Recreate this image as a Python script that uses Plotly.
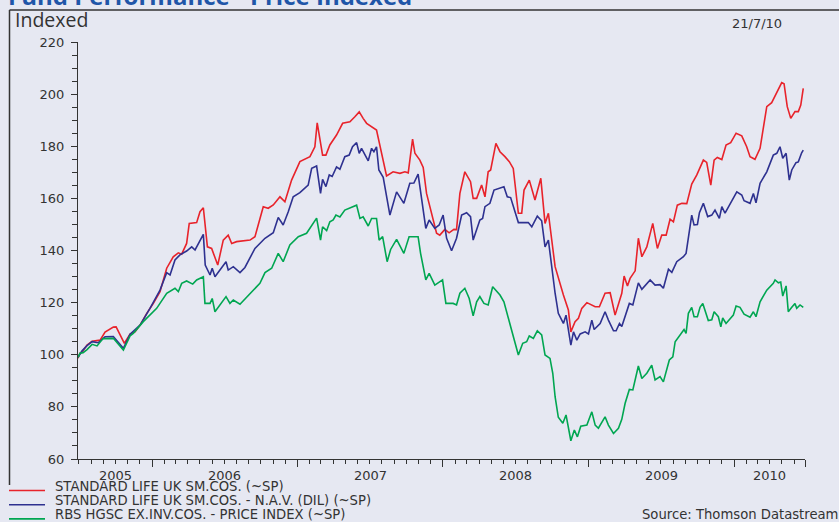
import pandas as pd
import plotly.graph_objects as go

# Weekly index levels (base 100), x given as decimal years
sl_price_years = [
    2005.491, 2005.505, 2005.519, 2005.553, 2005.588, 2005.643, 2005.677, 2005.734, 2005.753, 2005.810,
    2005.849, 2005.883, 2005.918, 2005.964, 2006.009, 2006.055, 2006.101, 2006.146, 2006.181, 2006.204,
    2006.238, 2006.256, 2006.307, 2006.330, 2006.353, 2006.381, 2006.410, 2006.452, 2006.490, 2006.524,
    2006.548, 2006.582, 2006.674, 2006.708, 2006.765, 2006.799, 2006.834, 2006.880, 2006.914, 2006.960,
    2007.017, 2007.086, 2007.120, 2007.136, 2007.173, 2007.196, 2007.223, 2007.269, 2007.311, 2007.361,
    2007.395, 2007.425, 2007.452, 2007.476, 2007.544, 2007.579, 2007.613, 2007.658, 2007.705, 2007.739,
    2007.762, 2007.792, 2007.808, 2007.842, 2007.865, 2007.888, 2007.922, 2007.957, 2007.979, 2008.014,
    2008.043, 2008.076, 2008.094, 2008.117, 2008.151, 2008.190, 2008.208, 2008.232, 2008.266, 2008.289,
    2008.311, 2008.328, 2008.364, 2008.392, 2008.426, 2008.456, 2008.483, 2008.518, 2008.541, 2008.557,
    2008.593, 2008.632, 2008.672, 2008.701, 2008.724, 2008.770, 2008.827, 2008.861, 2008.878, 2008.907,
    2008.930, 2008.953, 2008.988, 2009.010, 2009.045, 2009.074, 2009.113, 2009.148, 2009.182, 2009.228,
    2009.244, 2009.267, 2009.285, 2009.320, 2009.342, 2009.366, 2009.400, 2009.441, 2009.473, 2009.503,
    2009.533, 2009.560, 2009.583, 2009.610, 2009.641, 2009.675, 2009.709, 2009.744, 2009.789, 2009.812,
    2009.840, 2009.863, 2009.885, 2009.916, 2009.945, 2009.977, 2010.014, 2010.053, 2010.087, 2010.110,
    2010.144, 2010.179, 2010.201, 2010.225, 2010.259, 2010.294, 2010.328, 2010.344, 2010.366, 2010.390,
    2010.419, 2010.442, 2010.459, 2010.476,
]
sl_price_values = [
    98.7, 100.6, 101.0, 103.7, 105.2, 105.6, 108.7, 110.6, 110.7, 104.4,
    107.9, 108.8, 111.4, 115.9, 119.7, 124.2, 133.2, 137.6, 139.1, 138.6,
    142.7, 150.4, 150.7, 154.9, 156.4, 141.4, 140.8, 134.4, 144.0, 145.9,
    142.7, 143.4, 144.0, 145.3, 156.8, 156.2, 157.5, 160.6, 158.7, 167.0,
    174.1, 176.0, 179.8, 189.0, 176.6, 176.6, 180.5, 184.3, 188.8, 189.4,
    191.3, 193.2, 190.7, 188.8, 186.2, 176.6, 168.6, 170.2, 169.6, 170.2,
    169.8, 182.7, 177.3, 174.7, 171.9, 161.9, 154.3, 146.6, 145.9, 148.1,
    146.8, 148.1, 148.0, 161.9, 170.2, 166.4, 160.0, 160.0, 165.1, 160.6,
    170.2, 170.9, 181.1, 177.9, 176.0, 174.1, 171.5, 154.3, 154.3, 163.2,
    167.0, 159.4, 167.7, 150.4, 154.3, 133.8, 122.9, 117.2, 108.8, 112.7,
    114.0, 117.8, 120.0, 119.4, 118.4, 118.4, 123.6, 123.8, 115.2, 123.6,
    130.2, 126.4, 129.3, 132.2, 144.7, 137.6, 141.4, 150.4, 140.8, 145.9,
    145.9, 152.0, 151.0, 157.4, 158.1, 158.0, 165.5, 169.0, 174.7, 173.8,
    165.1, 174.7, 175.7, 174.9, 180.5, 181.4, 185.0, 184.0, 179.8, 176.0,
    175.0, 179.2, 187.5, 195.2, 196.7, 200.9, 204.4, 204.0, 195.2, 190.7,
    193.3, 193.3, 195.8, 202.2,
]

sl_nav_years = [
    2005.491, 2005.519, 2005.553, 2005.588, 2005.629, 2005.663, 2005.677, 2005.734, 2005.803, 2005.849,
    2005.918, 2005.986, 2006.055, 2006.101, 2006.124, 2006.158, 2006.192, 2006.238, 2006.273, 2006.296,
    2006.353, 2006.366, 2006.399, 2006.414, 2006.433, 2006.509, 2006.524, 2006.559, 2006.605, 2006.639,
    2006.708, 2006.777, 2006.834, 2006.868, 2006.902, 2006.937, 2006.971, 2007.017, 2007.074, 2007.098,
    2007.132, 2007.159, 2007.173, 2007.196, 2007.219, 2007.239, 2007.269, 2007.292, 2007.326, 2007.356,
    2007.379, 2007.407, 2007.425, 2007.441, 2007.464, 2007.487, 2007.510, 2007.526, 2007.544, 2007.560,
    2007.590, 2007.617, 2007.636, 2007.682, 2007.732, 2007.773, 2007.801, 2007.830, 2007.883, 2007.906,
    2007.945, 2007.975, 2008.002, 2008.026, 2008.060, 2008.094, 2008.129, 2008.163, 2008.190, 2008.208,
    2008.254, 2008.273, 2008.289, 2008.323, 2008.351, 2008.419, 2008.442, 2008.465, 2008.518, 2008.586,
    2008.610, 2008.648, 2008.678, 2008.701, 2008.724, 2008.770, 2008.792, 2008.827, 2008.845, 2008.878,
    2008.896, 2008.919, 2008.942, 2008.976, 2008.999, 2009.022, 2009.038, 2009.079, 2009.113, 2009.136,
    2009.171, 2009.189, 2009.212, 2009.228, 2009.280, 2009.304, 2009.342, 2009.366, 2009.423, 2009.457,
    2009.491, 2009.514, 2009.549, 2009.572, 2009.606, 2009.652, 2009.670, 2009.709, 2009.725, 2009.748,
    2009.762, 2009.789, 2009.819, 2009.847, 2009.869, 2009.899, 2009.916, 2009.938, 2009.984, 2010.019,
    2010.053, 2010.069, 2010.110, 2010.133, 2010.151, 2010.179, 2010.225, 2010.270, 2010.294, 2010.316,
    2010.335, 2010.358, 2010.380, 2010.397, 2010.426, 2010.442, 2010.465, 2010.476,
]
sl_nav_values = [
    99.0, 101.5, 103.5, 105.0, 104.6, 106.4, 106.9, 107.0, 102.5, 107.9,
    111.4, 117.8, 124.8, 131.5, 130.6, 136.4, 138.3, 139.8, 141.4, 140.2,
    146.2, 134.4, 130.6, 133.2, 129.9, 135.7, 132.5, 133.8, 131.5, 133.5,
    140.8, 144.7, 146.8, 152.7, 149.8, 154.9, 160.6, 162.2, 165.1, 171.5,
    172.4, 161.9, 167.3, 164.5, 169.0, 168.4, 172.1, 171.2, 176.0, 176.6,
    179.8, 181.4, 177.3, 179.2, 176.6, 174.4, 179.2, 177.9, 179.8, 170.9,
    168.1, 159.4, 153.6, 162.5, 158.1, 165.8, 165.9, 169.3, 148.5, 151.7,
    148.5, 149.8, 153.6, 144.7, 139.9, 144.7, 153.6, 154.5, 153.0, 144.0,
    151.7, 152.3, 156.8, 158.1, 163.2, 164.5, 160.6, 160.3, 150.7, 150.7,
    149.1, 153.2, 151.4, 141.4, 144.0, 123.6, 115.9, 112.0, 115.2, 103.7,
    108.8, 105.6, 108.0, 108.8, 108.0, 113.3, 109.7, 112.0, 116.5, 113.3,
    109.2, 109.2, 112.0, 110.8, 119.7, 119.1, 127.6, 125.1, 128.7, 126.7,
    126.9, 125.5, 132.8, 131.6, 135.7, 137.6, 138.9, 153.6, 149.8, 150.0,
    154.5, 158.1, 153.0, 153.6, 155.5, 152.3, 156.8, 154.3, 158.7, 162.5,
    161.3, 159.1, 158.1, 161.9, 158.3, 165.8, 170.2, 176.6, 177.3, 179.8,
    175.4, 177.3, 167.0, 170.9, 173.7, 174.0, 177.5, 178.5,
]

rbs_index_years = [
    2005.491, 2005.505, 2005.526, 2005.553, 2005.588, 2005.622, 2005.663, 2005.734, 2005.803, 2005.849,
    2005.871, 2005.940, 2006.032, 2006.101, 2006.158, 2006.181, 2006.204, 2006.238, 2006.280, 2006.307,
    2006.353, 2006.364, 2006.399, 2006.414, 2006.433, 2006.509, 2006.536, 2006.559, 2006.605, 2006.674,
    2006.742, 2006.777, 2006.823, 2006.868, 2006.902, 2006.948, 2007.006, 2007.063, 2007.132, 2007.159,
    2007.173, 2007.201, 2007.223, 2007.246, 2007.265, 2007.292, 2007.326, 2007.407, 2007.430, 2007.452,
    2007.487, 2007.510, 2007.544, 2007.562, 2007.586, 2007.617, 2007.641, 2007.682, 2007.732, 2007.768,
    2007.830, 2007.847, 2007.883, 2007.906, 2007.945, 2007.998, 2008.021, 2008.071, 2008.094, 2008.117,
    2008.151, 2008.181, 2008.208, 2008.232, 2008.254, 2008.282, 2008.311, 2008.342, 2008.392, 2008.419,
    2008.449, 2008.483, 2008.518, 2008.548, 2008.575, 2008.593, 2008.621, 2008.648, 2008.678, 2008.701,
    2008.735, 2008.754, 2008.770, 2008.792, 2008.823, 2008.845, 2008.878, 2008.902, 2008.923, 2008.946,
    2008.988, 2009.022, 2009.045, 2009.067, 2009.113, 2009.136, 2009.171, 2009.205, 2009.228, 2009.251,
    2009.280, 2009.304, 2009.342, 2009.366, 2009.400, 2009.434, 2009.457, 2009.491, 2009.514, 2009.555,
    2009.579, 2009.595, 2009.629, 2009.656, 2009.670, 2009.686, 2009.709, 2009.725, 2009.748, 2009.766,
    2009.785, 2009.823, 2009.847, 2009.863, 2009.892, 2009.909, 2009.922, 2009.945, 2009.995, 2010.014,
    2010.041, 2010.069, 2010.110, 2010.133, 2010.151, 2010.179, 2010.225, 2010.270, 2010.282, 2010.305,
    2010.321, 2010.335, 2010.358, 2010.373, 2010.397, 2010.419, 2010.431, 2010.454, 2010.476,
]
rbs_index_values = [
    99.0, 100.6, 100.8, 102.0, 104.0, 103.4, 106.2, 106.3, 101.8, 107.2,
    108.2, 112.7, 117.8, 123.6, 125.5, 124.2, 127.4, 128.3, 127.1, 128.7,
    129.9, 119.7, 119.7, 121.6, 116.5, 122.3, 119.7, 121.0, 119.4, 123.6,
    127.4, 131.5, 133.2, 138.9, 135.7, 142.1, 145.3, 146.6, 152.4, 144.0,
    149.1, 147.6, 151.0, 151.7, 153.6, 152.9, 155.5, 157.4, 152.3, 152.9,
    149.4, 152.3, 152.3, 144.0, 145.3, 135.7, 140.4, 144.3, 138.9, 145.3,
    145.3, 138.9, 128.7, 131.2, 126.7, 128.7, 119.7, 119.7, 119.1, 123.6,
    125.5, 121.6, 114.9, 120.3, 122.3, 119.7, 119.1, 126.1, 122.9, 120.3,
    114.0, 106.9, 99.9, 104.4, 105.0, 107.2, 106.3, 109.2, 107.6, 99.9,
    98.6, 92.9, 83.9, 76.0, 73.7, 76.9, 67.0, 71.1, 68.5, 72.6,
    73.0, 78.1, 73.0, 71.8, 76.2, 73.0, 69.8, 71.8, 75.2, 81.4,
    86.7, 86.5, 95.7, 90.9, 92.9, 96.0, 90.3, 91.6, 89.6, 98.0,
    99.2, 105.0, 107.6, 109.7, 108.2, 115.9, 118.2, 114.6, 114.6, 118.2,
    119.7, 113.1, 113.4, 116.5, 114.6, 110.7, 114.1, 112.0, 115.2, 118.7,
    118.2, 115.6, 114.4, 116.5, 114.6, 120.3, 124.8, 127.4, 128.7, 127.6,
    127.9, 122.5, 126.4, 116.5, 118.2, 119.7, 117.8, 119.1, 118.2,
]

series_names = [
    "STANDARD LIFE UK SM.COS. (~SP)",
    "STANDARD LIFE UK SM.COS. - N.A.V. (DIL) (~SP)",
    "RBS HGSC EX.INV.COS. - PRICE INDEX (~SP)",
]
series_colors = ["#E8232B", "#2E3190", "#00A651"]
year_labels = [2005, 2006, 2007, 2008, 2009, 2010]
x_start, x_end = 2005.491, 2010.488
y_ticks = [60, 80, 100, 120, 140, 160, 180, 200, 220]

BG = "#E6E8F2"
INK = "#333333"
TICK_FONT = dict(family="DejaVu Sans", size=13, color=INK)
KEY_FONT = dict(family="DejaVu Sans", size=13.2, color=INK)


def to_date(y):
    yr = int(y)
    days = 366 if (yr % 4 == 0 and (yr % 100 != 0 or yr % 400 == 0)) else 365
    return pd.Timestamp(yr, 1, 1) + pd.Timedelta(days=(y - yr) * days)


fig = go.Figure()
for name, color, xs, ys in zip(
    series_names,
    series_colors,
    [sl_price_years, sl_nav_years, rbs_index_years],
    [sl_price_values, sl_nav_values, rbs_index_values],
):
    fig.add_trace(go.Scatter(
        x=[to_date(v) for v in xs], y=ys, mode="lines", name=name,
        line=dict(color=color, width=1.6), showlegend=False,
    ))

range_lo, range_hi = to_date(x_start), to_date(x_end)
year_starts = [pd.Timestamp(y, 1, 1) for y in year_labels[1:]]

fig.update_xaxes(
    type="date", range=[range_lo, range_hi],
    tickmode="array", tickvals=year_starts + [range_hi], ticktext=[""] * (len(year_starts) + 1),
    ticks="outside", ticklen=7, tickwidth=1, tickcolor=INK,
    minor=dict(tickmode="linear", tick0="2005-01-01", dtick="M1",
               ticks="outside", ticklen=4, tickwidth=1, tickcolor=INK),
    showline=True, linecolor=INK, linewidth=1.2, showgrid=False, zeroline=False,
)
fig.update_yaxes(
    range=[60, 220], tickmode="array", tickvals=y_ticks,
    ticks="outside", ticklen=6, tickwidth=1, tickcolor=INK, tickfont=TICK_FONT,
    ticklabelstandoff=4,
    minor=dict(tickmode="linear", tick0=60, dtick=5, ticks="outside",
               ticklen=5, tickwidth=1, tickcolor=INK),
    showline=True, linecolor=INK, linewidth=1.2, showgrid=False, zeroline=False,
)

# plot area spans 727 x 417 px; helpers convert page pixels to paper units
L, T, W, H = 78, 42, 727, 417


def px(x):
    return (x - L) / W


def py(y):
    return (T + H - y) / H


annotations = []
# year labels centred on the visible part of each calendar year
for yr in year_labels:
    a = max(pd.Timestamp(yr, 1, 1), range_lo)
    b = min(pd.Timestamp(yr + 1, 1, 1), range_hi)
    annotations.append(dict(x=a + (b - a) / 2, xref="x", y=py(475), yref="paper",
                            text=str(yr), showarrow=False, font=TICK_FONT,
                            xanchor="center", yanchor="middle"))

annotations += [
    dict(x=px(6), y=py(-4.5), xref="paper", yref="paper", xanchor="left", yanchor="middle",
         text="<b>Fund Performance - Price Indexed</b>", showarrow=False,
         font=dict(family="Open Sans", size=24, color="#1F56A8")),
    dict(x=px(13), y=py(19.5), xref="paper", yref="paper", xanchor="left", yanchor="middle",
         text="Indexed", showarrow=False, font=dict(family="Open Sans", size=19.5, color=INK)),
    dict(x=px(784), y=py(23), xref="paper", yref="paper", xanchor="right", yanchor="middle",
         text="21/7/10", showarrow=False, font=TICK_FONT),
    dict(x=px(840), y=py(514.5), xref="paper", yref="paper", xanchor="right", yanchor="middle",
         text="Source: Thomson Datastream", showarrow=False, font=KEY_FONT),
]

shapes = [
    # outer frame: top and left edges
    dict(type="line", xref="paper", yref="paper", x0=px(9.5), x1=px(845), y0=py(10), y1=py(10),
         line=dict(color=INK, width=1.5)),
    dict(type="line", xref="paper", yref="paper", x0=px(9.5), x1=px(9.5), y0=py(10), y1=py(485),
         line=dict(color=INK, width=1.5)),
]

# key below the chart
for i, (name, color) in enumerate(zip(series_names, series_colors)):
    line_y = 490.5 + 14.2 * i
    text_y = 486.6 + 14.0 * i
    shapes.append(dict(type="line", xref="paper", yref="paper", x0=px(9), x1=px(45),
                       y0=py(line_y), y1=py(line_y), line=dict(color=color, width=1.6)))
    annotations.append(dict(x=px(53), y=py(text_y), xref="paper", yref="paper",
                            xanchor="left", yanchor="middle", text=name, showarrow=False,
                            font=KEY_FONT))

fig.update_layout(
    width=839, height=522, autosize=False,
    margin=dict(l=L, r=839 - L - W, t=T, b=522 - T - H, pad=0),
    paper_bgcolor=BG, plot_bgcolor=BG,
    annotations=annotations, shapes=shapes, showlegend=False,
)

fig.write_html("out.html")
